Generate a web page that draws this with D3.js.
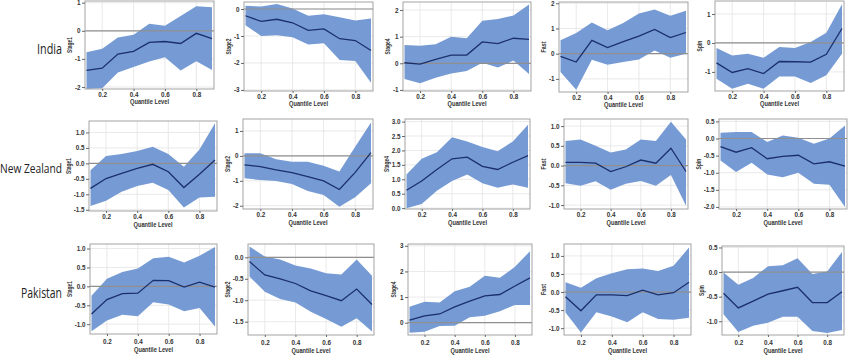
<!DOCTYPE html>
<html><head><meta charset="utf-8">
<script src="https://cdn.jsdelivr.net/npm/d3@7"></script>
<style>body{margin:0;background:#fff}svg{display:block}</style>
</head><body><svg id="c" width="850" height="355"></svg>
<script>
// ---------------- DATA ----------------
const countries = ["India", "New Zealand", "Pakistan"];
const variables = ["Stage1", "Stage2", "Stage4", "Fast", "Spin"];
const quantiles = [0.1, 0.2, 0.3, 0.4, 0.5, 0.6, 0.7, 0.8, 0.9];
const xTickValues = [0.2, 0.4, 0.6, 0.8];
const xTitle = "Quantile Level";

// India
const indiaStage1Est = [-1.41, -1.33, -0.83, -0.73, -0.41, -0.38, -0.45, -0.09, -0.28];
const indiaStage1Lo  = [-2.07, -2.04, -1.48, -1.29, -1.09, -0.94, -1.41, -1.08, -1.39];
const indiaStage1Hi  = [-0.76, -0.64, -0.24, -0.14, 0.25, 0.18, 0.53, 0.87, 0.84];
const indiaStage2Est = [-0.25, -0.46, -0.38, -0.51, -0.79, -0.74, -1.10, -1.17, -1.54];
const indiaStage2Lo  = [-0.60, -1.00, -0.97, -1.05, -1.32, -1.27, -1.89, -1.93, -2.73];
const indiaStage2Hi  = [0.12, 0.09, 0.19, 0.02, -0.25, -0.19, -0.31, -0.43, -0.35];
const indiaStage4Est = [0.02, -0.03, 0.15, 0.31, 0.31, 0.80, 0.74, 0.94, 0.90];
const indiaStage4Lo  = [-0.59, -0.75, -0.54, -0.38, -0.29, 0.02, -0.16, 0.10, -0.40];
const indiaStage4Hi  = [0.69, 0.66, 0.71, 1.00, 0.94, 1.60, 1.66, 1.79, 2.21];
const indiaFastEst   = [-0.11, -0.33, 0.53, 0.24, 0.48, 0.70, 0.96, 0.64, 0.84];
const indiaFastLo    = [-0.73, -1.43, -0.24, -0.44, -0.33, -0.23, 0.13, -0.16, 0.00];
const indiaFastHi    = [0.53, 0.82, 1.24, 0.93, 1.22, 1.59, 1.75, 1.50, 1.70];
const indiaSpinEst   = [-0.69, -1.02, -0.89, -1.06, -0.64, -0.65, -0.66, -0.39, 0.50];
const indiaSpinLo    = [-1.24, -1.58, -1.41, -1.58, -1.16, -1.16, -1.38, -1.12, -0.37];
const indiaSpinHi    = [-0.17, -0.43, -0.37, -0.51, -0.14, -0.17, 0.03, 0.35, 1.34];

// New Zealand
const nzStage1Est = [-0.81, -0.49, -0.32, -0.16, -0.03, -0.27, -0.78, -0.35, 0.11];
const nzStage1Lo  = [-1.38, -1.21, -0.92, -0.73, -0.63, -0.86, -1.43, -1.10, -1.08];
const nzStage1Hi  = [-0.22, 0.24, 0.30, 0.40, 0.54, 0.30, -0.11, 0.45, 1.30];
const nzStage2Est = [-0.36, -0.43, -0.56, -0.67, -0.83, -1.00, -1.35, -0.66, 0.13];
const nzStage2Lo  = [-0.90, -0.97, -1.01, -1.13, -1.41, -1.57, -2.04, -1.66, -1.10];
const nzStage2Hi  = [0.11, 0.11, -0.13, -0.23, -0.23, -0.40, -0.63, 0.37, 1.34];
const nzStage4Est = [0.62, 0.94, 1.34, 1.71, 1.77, 1.45, 1.34, 1.59, 1.82];
const nzStage4Lo  = [0.00, 0.14, 0.60, 0.94, 1.17, 0.86, 0.71, 0.82, 0.71];
const nzStage4Hi  = [1.17, 1.71, 1.94, 2.46, 2.31, 2.12, 1.97, 2.31, 2.89];
const nzFastEst   = [0.08, 0.08, 0.06, -0.15, -0.03, 0.14, 0.06, 0.44, -0.15];
const nzFastLo    = [-0.45, -0.51, -0.40, -0.61, -0.46, -0.39, -0.51, -0.24, -1.02];
const nzFastHi    = [0.62, 0.66, 0.50, 0.33, 0.41, 0.66, 0.62, 1.11, 0.66];
const nzSpinEst   = [-0.24, -0.40, -0.27, -0.59, -0.52, -0.49, -0.74, -0.68, -0.81];
const nzSpinLo    = [-0.64, -0.98, -0.71, -1.05, -1.13, -1.00, -1.32, -1.35, -2.00];
const nzSpinHi    = [0.17, 0.19, 0.19, -0.10, 0.09, 0.02, -0.15, 0.00, 0.38];

// Pakistan
const pakStage1Est = [-0.73, -0.35, -0.19, -0.18, 0.16, 0.15, -0.02, 0.11, -0.02];
const pakStage1Lo  = [-1.19, -0.90, -0.75, -0.79, -0.42, -0.48, -0.66, -0.57, -1.06];
const pakStage1Hi  = [-0.25, 0.20, 0.38, 0.47, 0.74, 0.78, 0.63, 0.81, 1.04];
const pakStage2Est = [-0.10, -0.41, -0.50, -0.61, -0.78, -0.89, -1.01, -0.74, -1.10];
const pakStage2Lo  = [-0.45, -0.80, -0.97, -1.05, -1.27, -1.44, -1.62, -1.42, -1.73];
const pakStage2Hi  = [0.25, 0.02, -0.05, -0.19, -0.26, -0.37, -0.40, -0.05, -0.43];
const pakStage4Est = [0.10, 0.27, 0.34, 0.62, 0.84, 1.05, 1.10, 1.43, 1.75];
const pakStage4Lo  = [-0.39, -0.35, -0.13, -0.12, 0.21, 0.27, 0.45, 0.69, 0.69];
const pakStage4Hi  = [0.62, 0.82, 0.79, 1.23, 1.40, 1.83, 1.75, 2.18, 2.79];
const pakFastEst   = [-0.13, -0.52, -0.08, -0.08, -0.10, 0.05, -0.08, -0.02, 0.27];
const pakFastLo    = [-0.57, -1.12, -0.56, -0.68, -0.84, -0.56, -0.75, -0.77, -0.71];
const pakFastHi    = [0.27, 0.12, 0.38, 0.52, 0.63, 0.65, 0.58, 0.73, 1.23];
const pakSpinEst   = [-0.43, -0.73, -0.59, -0.45, -0.38, -0.31, -0.62, -0.62, -0.40];
const pakSpinLo    = [-0.86, -1.22, -1.09, -1.03, -0.91, -0.91, -1.20, -1.24, -1.18];
const pakSpinHi    = [-0.01, -0.26, -0.12, 0.12, 0.14, 0.28, -0.04, 0.01, 0.41];

// y tick labels per panel (row = country, column = variable)
const yTicksIndia = [[-2, -1, 0, 1], [-3, -2, -1, 0], [-1, 0, 1, 2], [-1, 0, 1, 2], [-1, 0, 1]];
const yTicksNZ    = [[-1.5, -1, -0.5, 0, 0.5, 1], [-2, -1, 0, 1], [0, 0.5, 1, 1.5, 2, 2.5, 3],
                     [-1, -0.5, 0, 0.5, 1], [-2, -1.5, -1, -0.5, 0, 0.5]];
const yTicksPak   = [[-1, -0.5, 0, 0.5, 1], [-1.5, -1, -0.5, 0], [0, 1, 2, 3],
                     [-1, -0.5, 0, 0.5, 1], [-1, -0.5, 0, 0.5]];

// ---------------- LAYOUT (positions, not data) ----------------
// [left, right, top, bottom, yMin, yMax]
const boxes = [
  [[85, 214, 1, 89, -2.07, 1.06], [244, 373, 2, 91, -3.04, 0.26], [403, 531, 2, 91, -1.04, 2.3],
   [559, 688, 2, 92, -1.52, 2.05], [715, 844, 1, 91, -1.66, 1.45]],
  [[89, 217, 121, 211, -1.54, 1.37], [243, 373, 119, 209, -2.13, 1.48], [405, 530, 119, 209, -0.03, 3.09],
   [564, 688, 119, 209, -1.1, 1.18], [719, 847, 119, 209, -2.06, 0.57]],
  [[90, 217, 244, 334, -1.26, 1.12], [248, 374, 244, 335, -1.81, 0.31], [408, 532, 244, 335, -0.48, 3.07],
   [564, 691, 244, 335, -1.19, 1.33], [722, 844, 246, 335, -1.28, 0.53]]
];
const tickBaseOff = [7.7, 7.5, 10];
const titleBaseOff = [15, 15.5, 17.5];
const rowLabels = [
  {x: 37, y: 49, w: 25, size: 14},
  {x: 0, y: 169, w: 62, size: 12.5},
  {x: 21, y: 293, w: 41, size: 14}
];

const BAND = "#769bd4", LINE = "#1b2f6c", ZERO = "#8f8f8f", GRID = "#e3e3e3", BORDER = "#a3a3a3";

const series = {
  "India": {
    Stage1: [indiaStage1Est, indiaStage1Lo, indiaStage1Hi], Stage2: [indiaStage2Est, indiaStage2Lo, indiaStage2Hi],
    Stage4: [indiaStage4Est, indiaStage4Lo, indiaStage4Hi], Fast: [indiaFastEst, indiaFastLo, indiaFastHi],
    Spin: [indiaSpinEst, indiaSpinLo, indiaSpinHi], ticks: yTicksIndia },
  "New Zealand": {
    Stage1: [nzStage1Est, nzStage1Lo, nzStage1Hi], Stage2: [nzStage2Est, nzStage2Lo, nzStage2Hi],
    Stage4: [nzStage4Est, nzStage4Lo, nzStage4Hi], Fast: [nzFastEst, nzFastLo, nzFastHi],
    Spin: [nzSpinEst, nzSpinLo, nzSpinHi], ticks: yTicksNZ },
  "Pakistan": {
    Stage1: [pakStage1Est, pakStage1Lo, pakStage1Hi], Stage2: [pakStage2Est, pakStage2Lo, pakStage2Hi],
    Stage4: [pakStage4Est, pakStage4Lo, pakStage4Hi], Fast: [pakFastEst, pakFastLo, pakFastHi],
    Spin: [pakSpinEst, pakSpinLo, pakSpinHi], ticks: yTicksPak }
};

const svg = d3.select("#c");
const FONT = "'Liberation Sans', Arial, sans-serif";

function fmtTick(ticks) {
  const half = ticks.some(t => Math.abs(t - Math.round(t)) > 1e-9);
  const f = half ? d3.format(".1f") : d3.format("d");
  return v => f(v).replace("\u2212", "-");
}

countries.forEach((country, r) => {
  const lab = rowLabels[r];
  svg.append("text").attr("x", lab.x).attr("y", lab.y).attr("dy", "0.35em")
    .attr("font-family", "'Open Sans', Lato, sans-serif").attr("font-size", lab.size)
    .attr("fill", "#222").attr("textLength", lab.w).attr("lengthAdjust", "spacingAndGlyphs")
    .text(country);

  variables.forEach((v, c) => {
    const [L, R, T, B, y0, y1] = boxes[r][c];
    const [est, lo, hi] = series[country][v];
    const ticks = series[country].ticks[c];
    const x = d3.scaleLinear().domain([0.1, 0.9]).range([L + 1.5, R - 2]);
    const y = d3.scaleLinear().domain([y0, y1]).range([B, T]);
    const g = svg.append("g");

    // background + grid
    g.append("rect").attr("x", L).attr("y", T).attr("width", R - L).attr("height", B - T).attr("fill", "#fff");
    g.selectAll(".gx").data(xTickValues).join("line")
      .attr("x1", d => x(d)).attr("x2", d => x(d)).attr("y1", T).attr("y2", B)
      .attr("stroke", GRID).attr("stroke-width", 0.8);
    g.selectAll(".gy").data(ticks).join("line")
      .attr("x1", L).attr("x2", R).attr("y1", d => y(d)).attr("y2", d => y(d))
      .attr("stroke", GRID).attr("stroke-width", 0.8);

    // band
    const pts = quantiles.map((q, i) => ({q, e: est[i], lo: lo[i], hi: hi[i]}));
    const clipId = `clip${r}${c}`;
    svg.append("clipPath").attr("id", clipId).append("rect")
      .attr("x", L).attr("y", T).attr("width", R - L).attr("height", B - T);
    const inner = g.append("g").attr("clip-path", `url(#${clipId})`);
    inner.append("path").datum(pts)
      .attr("d", d3.area().x(d => x(d.q)).y0(d => y(d.lo)).y1(d => y(d.hi)))
      .attr("fill", BAND);
    if (y(0) > T + 3 && y(0) < B - 3) {
      inner.append("line").attr("x1", L).attr("x2", R).attr("y1", y(0)).attr("y2", y(0))
        .attr("stroke", ZERO).attr("stroke-width", 1.2);
    }
    inner.append("path").datum(pts)
      .attr("d", d3.line().x(d => x(d.q)).y(d => y(d.e)))
      .attr("fill", "none").attr("stroke", LINE).attr("stroke-width", 1.3);

    // border
    g.append("rect").attr("x", L).attr("y", T).attr("width", R - L).attr("height", B - T)
      .attr("fill", "none").attr("stroke", BORDER).attr("stroke-width", 1);

    // y axis
    const ya = g.append("g").attr("transform", `translate(${L},0)`)
      .call(d3.axisLeft(y).tickValues(ticks).tickSize(3).tickPadding(1.5).tickFormat(fmtTick(ticks)));
    ya.select(".domain").remove();
    ya.selectAll("line").attr("stroke", "#666");
    ya.selectAll("text").attr("font-family", FONT).attr("font-size", 6.3).attr("font-weight", "bold").attr("fill", "#333");
    let labelW = 0;
    ya.selectAll("text").each(function () { labelW = Math.max(labelW, this.getBBox().width); });

    // x axis
    const xa = g.append("g").attr("transform", `translate(0,${B})`)
      .call(d3.axisBottom(x).tickValues(xTickValues).tickSize(2).tickFormat(d3.format(".1f")));
    xa.select(".domain").remove();
    xa.selectAll("line").attr("stroke", "#666");
    xa.selectAll("text").attr("y", null).attr("dy", null).attr("y", tickBaseOff[r])
      .attr("font-family", FONT).attr("font-size", 6.3).attr("font-weight", "bold").attr("fill", "#333");

    // titles
    g.append("text").attr("x", (L + R) / 2).attr("y", B + titleBaseOff[r]).attr("text-anchor", "middle")
      .attr("font-family", FONT).attr("font-size", 7).attr("font-weight", "bold").attr("fill", "#333")
      .attr("textLength", 39).attr("lengthAdjust", "spacingAndGlyphs").text(xTitle);
    const titleX = Math.min(L - 14, L - 4.5 - labelW - 4.5);
    g.append("text")
      .attr("transform", `translate(${titleX},${(T + B) / 2}) rotate(-90)`)
      .attr("text-anchor", "middle").attr("dy", "0.35em")
      .attr("font-family", FONT).attr("font-size", 6.5).attr("font-weight", "bold").attr("fill", "#333")
      .attr("textLength", v.length * 2.7).attr("lengthAdjust", "spacingAndGlyphs").text(v);
  });
});
</script>
</body></html>
